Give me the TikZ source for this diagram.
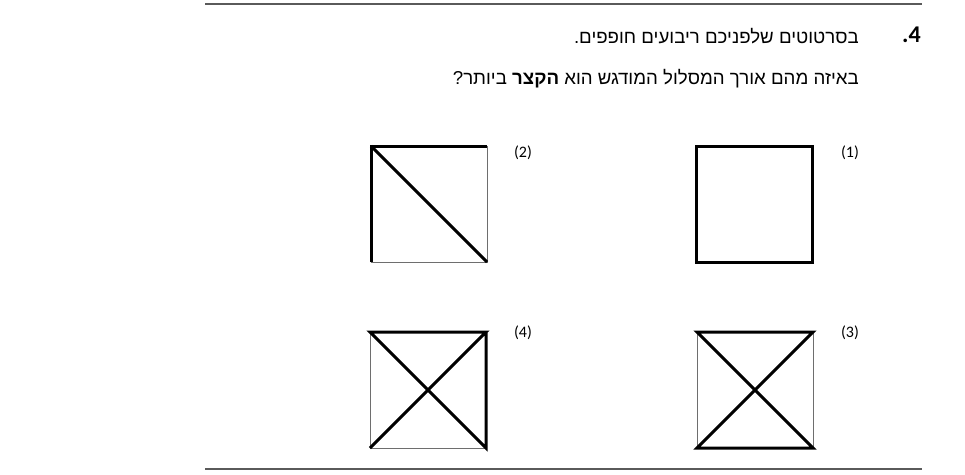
\documentclass[tikz,border=0pt]{standalone}
\usepackage{fontspec}
\setmainfont{Liberation Sans}
\newfontfamily\hebfont[Script=Hebrew]{Liberation Sans}
\newfontfamily\numfont{Carlito}
\TeXXeTstate=1

\begin{document}
\begin{tikzpicture}[x=0.75pt,y=0.75pt,yscale=-1,xscale=1,
  thinside/.style={color={rgb, 255:red, 110; green, 110; blue, 110 }, line width=0.75},
  boldpath/.style={color=black, line width=2.25},
  rule/.style={color={rgb, 255:red, 90; green, 90; blue, 90 }, line width=1.1},
  numlabel/.style={inner sep=0.75pt, font=\numfont\fontsize{12}{14}\selectfont}]
\useasboundingbox (0,0) rectangle (965,475);

%Straight Lines [id:rule_top]
\draw [rule]   (205,4) -- (922,4) ;
%Straight Lines [id:rule_bottom]
\draw [rule]   (205,469) -- (922,469) ;

%Shape: Square (1) [id:sq_one]
\draw [boldpath]   (696,146) -- (812,146) -- (812,262) -- (696,262) -- cycle ;

%Shape: Square (2) [id:sq_two]
\draw [thinside]   (371,146) -- (487,146) -- (487,262) -- (371,262) -- cycle ;
%Bold Path [id:path_two]
\draw [boldpath]   (371,262) -- (371,146) -- (487,146) ;
\draw [boldpath]   (371,146) -- (487,262) ;

%Shape: Square (3) [id:sq_three]
\draw [thinside]   (697,332) -- (813,332) -- (813,448) -- (697,448) -- cycle ;
%Bold Path [id:path_three]
\draw [boldpath]   (697,332) -- (813,332) -- (697,448) -- (813,448) -- cycle ;

%Shape: Square (4) [id:sq_four]
\draw [thinside]   (370,332) -- (486,332) -- (486,448) -- (370,448) -- cycle ;
%Bold Path [id:path_four]
\draw [boldpath]   (370,448) -- (486,332) -- (370,332) -- (486,448) -- (486,332) ;

% Text Node
\draw (922,42) node [anchor=base east][inner sep=0.75pt]  [font=\numfont\bfseries\fontsize{18}{20}\selectfont] (qnum) {.4};
% Text Node
\draw (860,43) node [anchor=base east][inner sep=0.75pt]  [font=\hebfont\fontsize{14}{16}\selectfont] (qline1) {\beginR בסרטוטים שלפניכם ריבועים חופפים.\endR};
% Text Node
\draw (860,84) node [anchor=base east][inner sep=0.75pt]  [font=\hebfont\fontsize{14}{16}\selectfont] (qline2) {\beginR באיזה מהם אורך המסלול המודגש הוא \textbf{הקצר} ביותר?\endR};
% Text Node
\draw (850,153) node [numlabel] (lab1) {(1)};
% Text Node
\draw (523,153) node [numlabel] (lab2) {(2)};
% Text Node
\draw (850,333) node [numlabel] (lab3) {(3)};
% Text Node
\draw (523,333) node [numlabel] (lab4) {(4)};

\end{tikzpicture}
\end{document}
